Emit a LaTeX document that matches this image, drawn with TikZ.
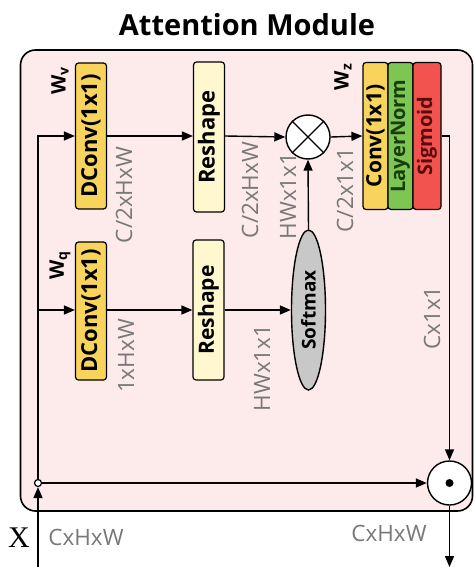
\documentclass[tikz,border=0pt]{standalone}
\usepackage{fontspec}
\setmainfont{Open Sans}
\newfontfamily\serifX{Liberation Serif}
\usetikzlibrary{arrows.meta,shapes.geometric}
\definecolor{bgpink}{RGB}{253,234,235}
\definecolor{dyellow}{RGB}{249,212,92}
\definecolor{lyellow}{RGB}{255,247,206}
\definecolor{lgreen}{RGB}{125,198,83}
\definecolor{lred}{RGB}{242,83,79}
\definecolor{smgray}{RGB}{200,200,200}
\definecolor{lblgray}{RGB}{120,120,120}
\definecolor{dgreen}{RGB}{25,60,10}
\definecolor{dred}{RGB}{90,10,10}
\tikzset{
  blk/.style={draw, rounded corners=3pt, line width=1.2pt, rotate=90, inner sep=0pt,
    font=\fontsize{22}{26}\selectfont\bfseries},
  lbl/.style={text=lblgray, font=\fontsize{22.5}{26}\selectfont, inner sep=0pt},
  wlbl/.style={font=\fontsize{20}{24}\selectfont\bfseries, rotate=90, inner sep=0pt},
  conn/.style={->, line width=1.4pt}
}
\begin{document}
\begin{tikzpicture}[x=1pt,y=-1pt, >={Triangle[length=11pt,width=9pt]}, line width=1.4pt]
\useasboundingbox (0,0) rectangle (474,567);
\node[font=\fontsize{29}{34}\selectfont\bfseries] (title) at (247,25) {Attention Module};
\node[draw, fill=bgpink, rounded corners=15pt, line width=1.6pt, minimum width=452pt, minimum height=461pt, inner sep=0pt] (frame) at (246.5,280.5) {};

\coordinate (yv) at (0,136);
\coordinate (yq) at (0,310);

\node[blk, fill=dyellow, minimum width=146pt, minimum height=31pt] (dv) at (91,136) {DConv(1x1)};
\node[blk, fill=lyellow, minimum width=150pt, minimum height=31pt] (rv) at (209,137) {Reshape};
\node[blk, fill=dyellow, minimum width=138pt, minimum height=31pt] (dq) at (91,311) {DConv(1x1)};
\node[blk, fill=lyellow, minimum width=140pt, minimum height=31pt, font=\fontsize{21}{25}\selectfont\bfseries] (rq) at (208.5,310) {Reshape};
\node[draw, circle, fill=white, minimum size=44pt, inner sep=0pt] (ot) at (308,137) {};
\draw (ot.north west) -- (ot.south east) (ot.north east) -- (ot.south west);
\node[draw, ellipse, fill=smgray, rotate=90, minimum width=160pt, minimum height=34pt, inner sep=0pt, font=\fontsize{19}{22}\selectfont\bfseries] (sm) at (308.5,310) {Softmax};
\node[blk, fill=dyellow, minimum width=147pt, minimum height=25pt, font=\fontsize{21}{25}\selectfont\bfseries] (cv) at (375.5,136) {Conv(1x1)};
\node[blk, fill=lgreen, minimum width=147pt, minimum height=25pt, text=dgreen, font=\fontsize{20}{24}\selectfont\bfseries] (ln) at (400.5,136) {LayerNorm};
\node[blk, fill=lred, minimum width=147pt, minimum height=28pt, text=dred, font=\fontsize{20}{24}\selectfont\bfseries] (sg) at (427,136) {Sigmoid};
\node[draw, circle, fill=white, minimum size=44pt, inner sep=0pt] (od) at (449.5,483) {};
\fill (od.center) circle (4pt);
\node[draw, circle, fill=white, minimum size=7pt, inner sep=0pt, line width=1.2pt] (sc) at (38,483) {};
\coordinate (xin) at (38,567);
\coordinate (out) at (449.5,567);
\coordinate (bq) at (38,310);

\node[wlbl] (wv) at (60,81) {W\textsubscript{v}};
\node[wlbl] (wq) at (60,265) {W\textsubscript{q}};
\node[wlbl] (wz) at (343,77) {W\textsubscript{z}};

\node[lbl, rotate=90] (l1) at (124,195) {C/2xHxW};
\node[lbl, rotate=90] (l2) at (250,190) {C/2xHxW};
\node[lbl, rotate=90] (l3) at (288,196) {HWx1x1};
\node[lbl, rotate=90] (l4) at (345,190) {C/2x1x1};
\node[lbl, rotate=90] (l5) at (126,356) {1xHxW};
\node[lbl, rotate=90] (l6) at (262,368) {HWx1x1};
\node[lbl, rotate=90] (l7) at (432,318) {Cx1x1};
\node[lbl] (l8) at (86,537) {CxHxW};
\node[lbl] (l9) at (389,533) {CxHxW};
\node[font=\serifX\fontsize{30}{34}\selectfont, inner sep=0pt] (xl) at (19,538) {X};

\draw[conn] (xin) -- (sc.south);
\draw[conn] (sc.north) |- (dv.north |- yv);
\draw[conn] (bq) -- (dq.north |- yq);
\draw[conn] (sc.east) -- (od.west);
\draw[conn] (dv.south |- yv) -- (rv.north |- yv);
\draw[conn] (rv.south |- yv) -- (ot.west);
\draw[conn] (ot.east) -- (cv.north |- yv);
\draw[conn] (sg.south |- yv) -| (od.north);
\draw[conn] (dq.south |- yq) -- (rq.north |- yq);
\draw[conn] (rq.south |- yq) -- (sm.north);
\draw[conn] (sm.east) -- (ot.south);
\draw[conn] (od.south) -- (out);
\end{tikzpicture}
\end{document}
